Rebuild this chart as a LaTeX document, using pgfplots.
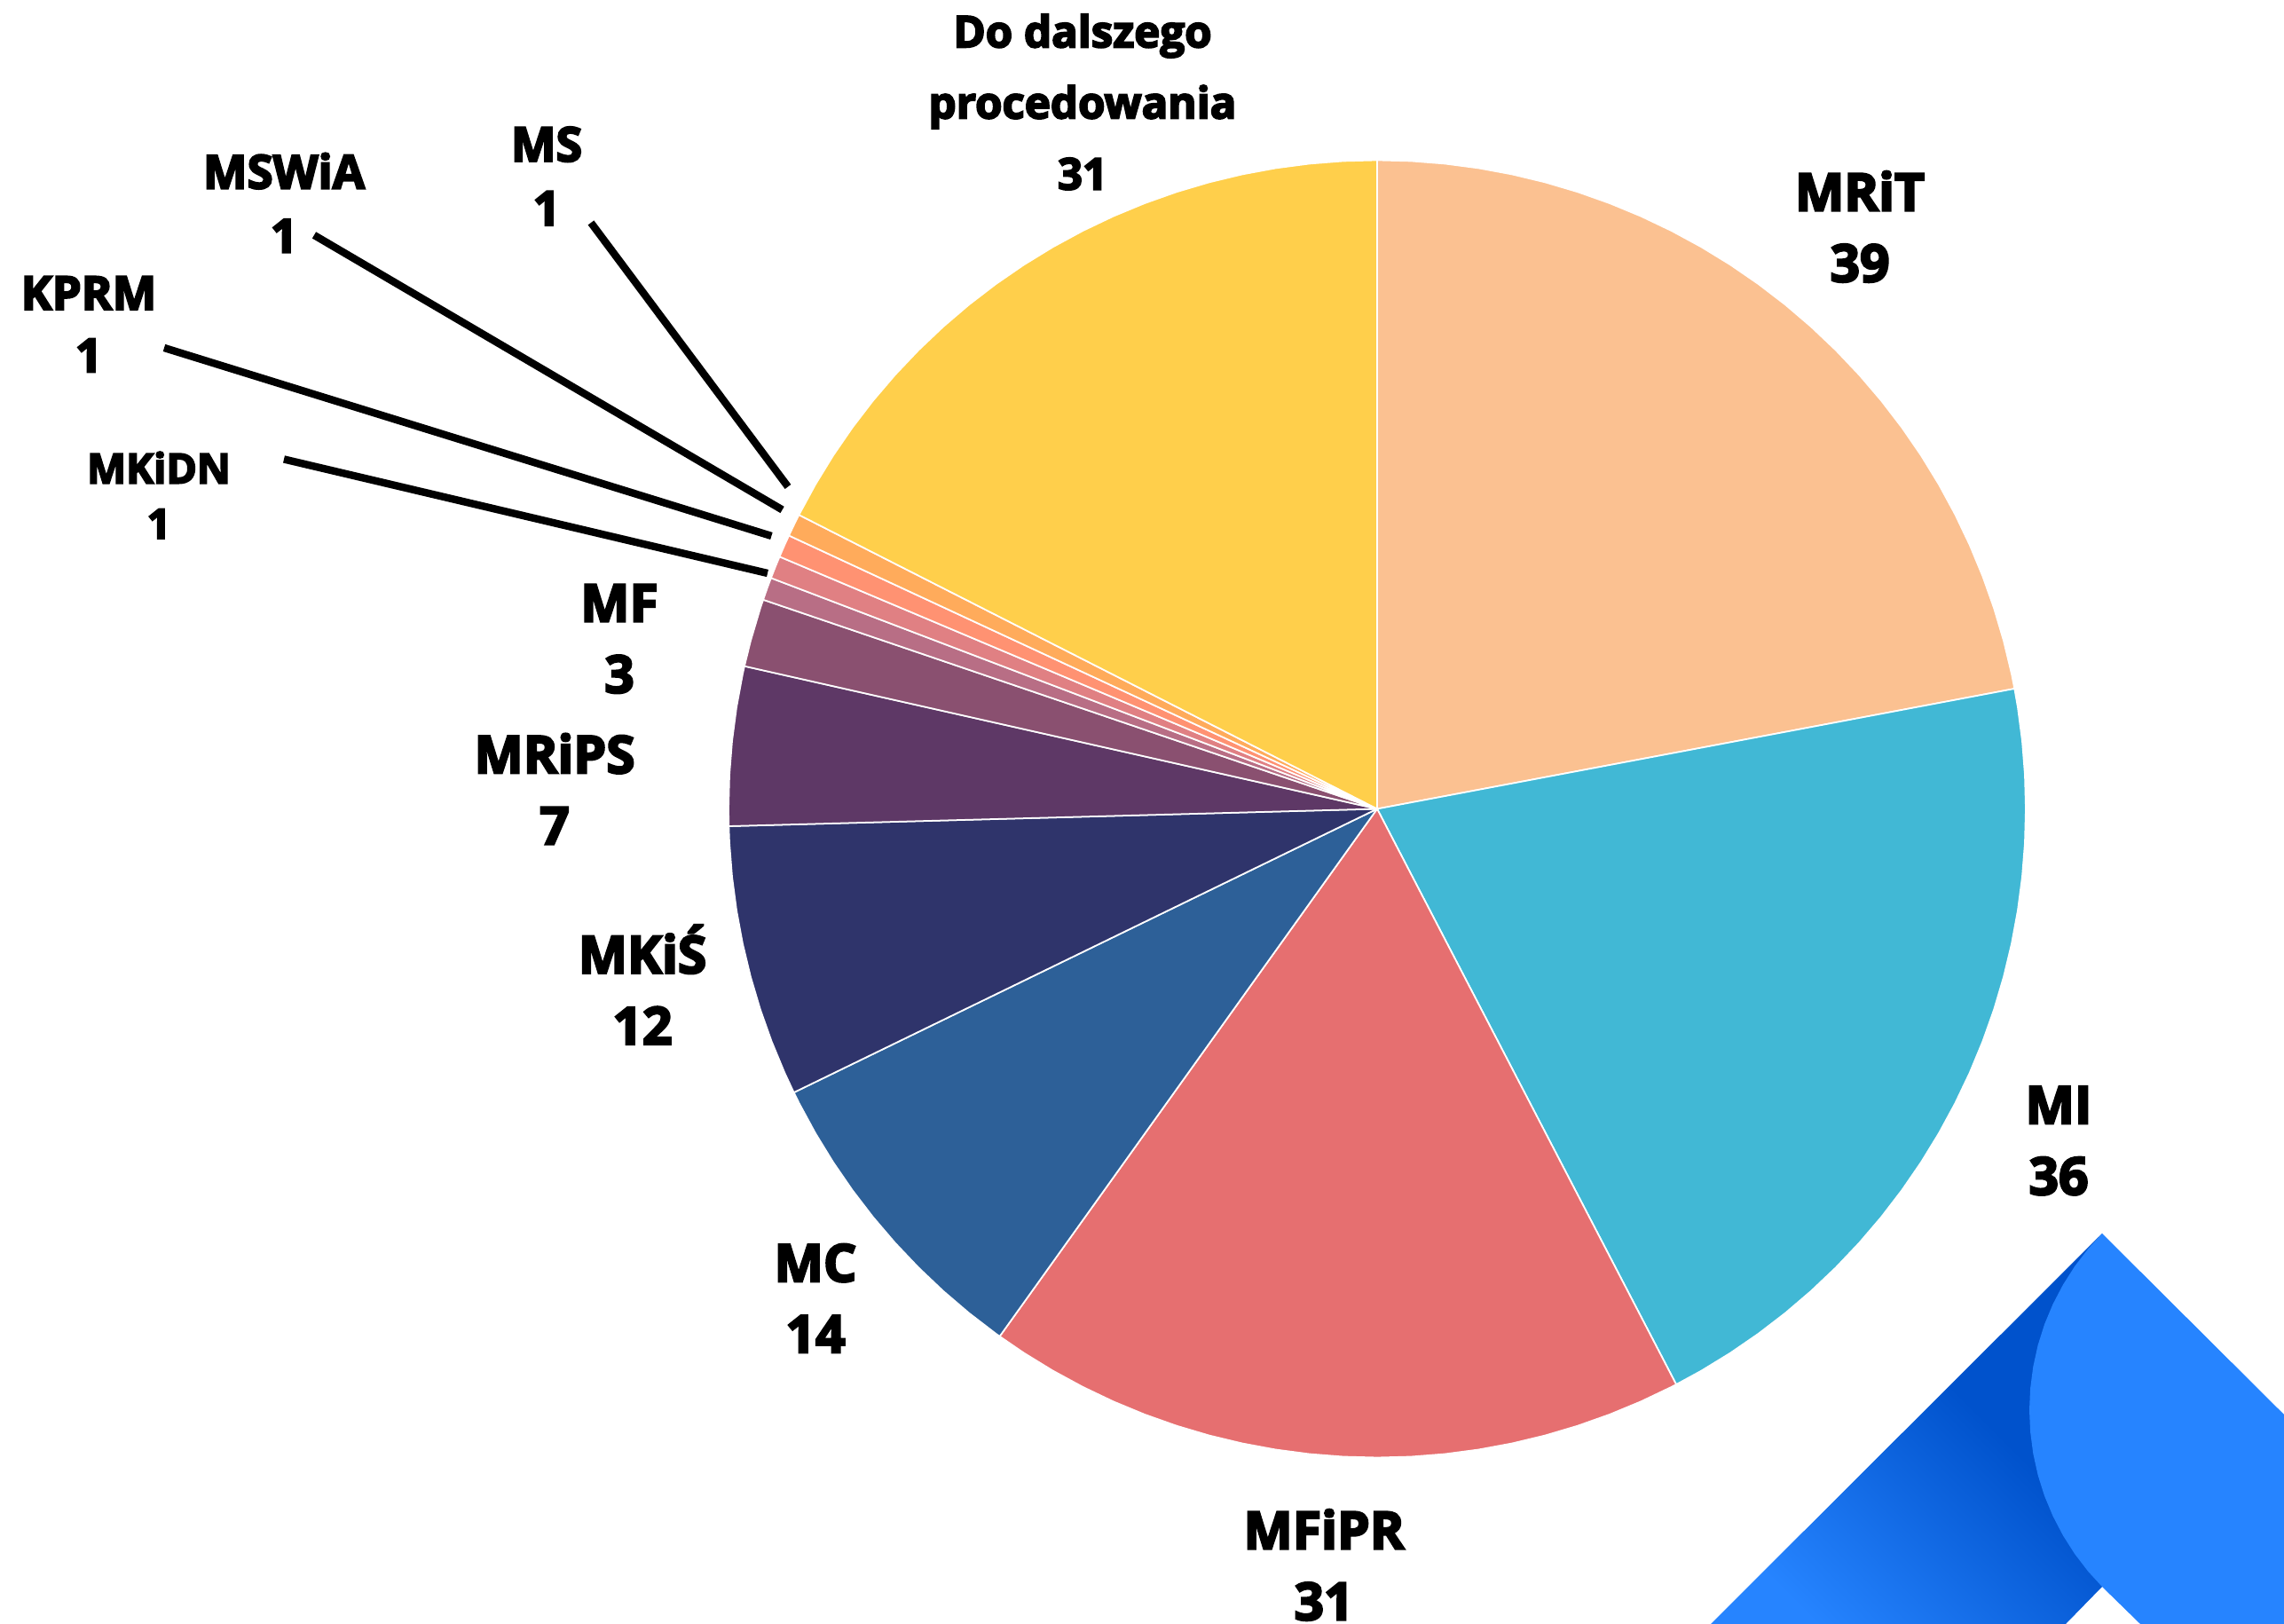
\documentclass[border=0pt]{standalone}
\usepackage{fontspec}
\setmainfont{Open Sans}[BoldFeatures={FakeBold=4}]
\usepackage{pgfplots}
\pgfplotsset{compat=1.18}

\definecolor{cMRiT}{HTML}{FBC191}
\definecolor{cMI}{HTML}{41B8D5}
\definecolor{cMFiPR}{HTML}{E66F70}
\definecolor{cMC}{HTML}{2D6098}
\definecolor{cMKiS}{HTML}{2F346B}
\definecolor{cMRiPS}{HTML}{5E3866}
\definecolor{cMF}{HTML}{8A5070}
\definecolor{cMKiDN}{HTML}{B86E85}
\definecolor{cKPRM}{HTML}{E08083}
\definecolor{cMSWiA}{HTML}{FF9272}
\definecolor{cMS}{HTML}{FFAB5B}
\definecolor{cDo}{HTML}{FFCF4B}
\definecolor{logolight}{HTML}{2684FF}
\definecolor{logodark}{HTML}{0052CC}

\pgfdeclareverticalshading{logograd}{100bp}{color(0bp)=(logolight); color(24bp)=(logolight); color(58bp)=(logodark); color(100bp)=(logodark)}

\newcommand{\lbl}[5]{\node[font=\fontsize{#3}{#4}\selectfont\bfseries, align=center, inner sep=0pt] at (axis cs:#1,#2) {#5};}

\begin{document}
\begin{tikzpicture}
\useasboundingbox (0,0) rectangle (25.74cm,18.30cm);
\begin{axis}[
    at={(0,0)}, anchor=south west,
    width=25.74cm, height=18.30cm, scale only axis,
    hide axis,
    xmin=-1552, xmax=1022, ymin=-918.5, ymax=911.5,
    wedge/.style={data cs=polar, draw=white, line width=0.5pt, line join=round},
    leader/.style={draw=black, line width=2.4pt},
]

% logo in the corner
\addplot[shade, shading=logograd, shading angle=-45, draw=none]
    coordinates {(817,-478.5)(376,-918.5)(776,-918.5)(817,-876.5)} --cycle;
\addplot[fill=logolight, draw=none] coordinates {
    (817,-478.5)(1022,-682.5)(1022,-918.5)(860,-918.5)(817,-876.5)
    (801.1,-859.1)(786.1,-839.5)(772.9,-818.75)(761.5,-796.9)(752,-774.1)
    (744.6,-750.6)(739.3,-726.5)(736.1,-702.1)(735,-677.5)(736.1,-652.9)
    (739.3,-628.5)(744.6,-604.4)(752,-580.9)(761.5,-558.1)(772.9,-536.25)
    (786.1,-515.5)(801.1,-495.9)} --cycle;

% pie: 39 36 31 14 12 7 3 1 1 1 1 31, clockwise from the top (sum 177)
\addplot[wedge, fill=cMRiT] coordinates {(0,0)
    (90,731)(87,731)(84,731)(81,731)(78,731)(75,731)(72,731)(69,731)(66,731)(63,731)
    (60,731)(57,731)(54,731)(51,731)(48,731)(45,731)(42,731)(39,731)(36,731)(33,731)
    (30,731)(27,731)(24,731)(21,731)(18,731)(15,731)(12,731)(10.68,731)} --cycle;
\addplot[wedge, fill=cMI] coordinates {(0,0)
    (10.68,731)(9,731)(6,731)(3,731)(0,731)(-3,731)(-6,731)(-9,731)(-12,731)(-15,731)
    (-18,731)(-21,731)(-24,731)(-27,731)(-30,731)(-33,731)(-36,731)(-39,731)(-42,731)
    (-45,731)(-48,731)(-51,731)(-54,731)(-57,731)(-60,731)(-62.54,731)} --cycle;
\addplot[wedge, fill=cMFiPR] coordinates {(0,0)
    (-62.54,731)(-63,731)(-66,731)(-69,731)(-72,731)(-75,731)(-78,731)(-81,731)(-84,731)
    (-87,731)(-90,731)(-93,731)(-96,731)(-99,731)(-102,731)(-105,731)(-108,731)(-111,731)
    (-114,731)(-117,731)(-120,731)(-123,731)(-125.59,731)} --cycle;
\addplot[wedge, fill=cMC] coordinates {(0,0)
    (-125.59,731)(-126,731)(-129,731)(-132,731)(-135,731)(-138,731)(-141,731)(-144,731)
    (-147,731)(-150,731)(-153,731)(-154.07,731)} --cycle;
\addplot[wedge, fill=cMKiS] coordinates {(0,0)
    (-154.07,731)(-156,731)(-159,731)(-162,731)(-165,731)(-168,731)(-171,731)(-174,731)
    (-177,731)(-178.47,731)} --cycle;
\addplot[wedge, fill=cMRiPS] coordinates {(0,0)
    (-178.47,731)(-180,731)(-183,731)(-186,731)(-189,731)(-192,731)(-192.71,731)} --cycle;
\addplot[wedge, fill=cMF] coordinates {(0,0)
    (-192.71,731)(-195,731)(-198,731)(-198.81,731)} --cycle;
\addplot[wedge, fill=cMKiDN] coordinates {(0,0)(-198.81,731)(-200,731)(-200.85,731)} --cycle;
\addplot[wedge, fill=cKPRM] coordinates {(0,0)(-200.85,731)(-202,731)(-202.88,731)} --cycle;
\addplot[wedge, fill=cMSWiA] coordinates {(0,0)(-202.88,731)(-204,731)(-204.92,731)} --cycle;
\addplot[wedge, fill=cMS] coordinates {(0,0)(-204.92,731)(-206,731)(-206.95,731)} --cycle;
\addplot[wedge, fill=cDo] coordinates {(0,0)
    (-206.95,731)(-207,731)(-210,731)(-213,731)(-216,731)(-219,731)(-222,731)(-225,731)
    (-228,731)(-231,731)(-234,731)(-237,731)(-240,731)(-243,731)(-246,731)(-249,731)
    (-252,731)(-255,731)(-258,731)(-261,731)(-264,731)(-267,731)(-270,731)} --cycle;

% leader lines for the small slices
\addplot[leader] coordinates {(-886,660.5)(-664,363)};
\addplot[leader] coordinates {(-1198,646.5)(-670.4,337)};
\addplot[leader] coordinates {(-1367,519.5)(-682.6,307.5)};
\addplot[leader] coordinates {(-1232,394)(-687,265.5)};

% labels
\lbl{544}{656}{16.7}{22.8}{MRiT\\39}
\lbl{768}{-374}{16.7}{22.8}{MI\\36}
\lbl{-60}{-852}{16.7}{22.8}{MFiPR\\31}
\lbl{-633}{-551.5}{16.7}{22.8}{MC\\14}
\lbl{-828}{-198}{16.7}{22.8}{MKiŚ\\12}
\lbl{-927}{22.5}{16.7}{22.8}{MRiPS\\7}
\lbl{-854}{191.5}{16.7}{22.8}{MF\\3}
\lbl{-936}{713}{15.3}{20.5}{MS\\1}
\lbl{-1232}{683}{15}{20.5}{MSWiA\\1}
\lbl{-1452}{546}{15}{20}{KPRM\\1}
\lbl{-1373}{353.5}{13.3}{17.7}{MKiDN\\1}
\lbl{-332}{796.5}{14}{22.8}{Do dalszego\\procedowania\\31}

\end{axis}
\end{tikzpicture}
\end{document}
